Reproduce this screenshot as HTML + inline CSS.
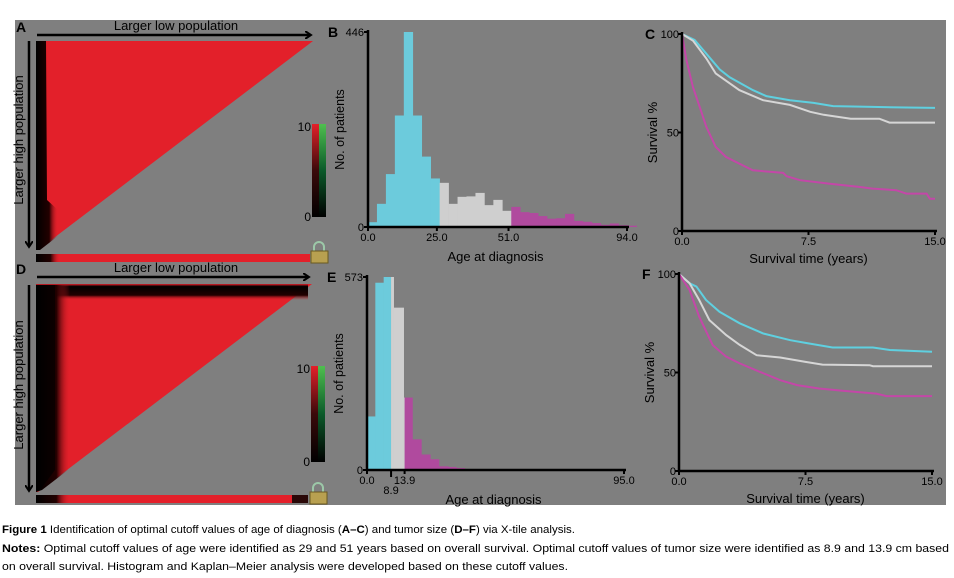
<!DOCTYPE html>
<html><head><meta charset="utf-8"><style>
html,body{margin:0;padding:0;background:#fff;}
svg{display:block;font-family:"Liberation Sans",sans-serif;}
</style></head><body>
<svg id="fig" width="954" height="578" viewBox="0 0 954 578" xmlns="http://www.w3.org/2000/svg">
<defs>
<linearGradient id="cbar" x1="0" y1="1" x2="0" y2="0"><stop offset="0" stop-color="#000"/><stop offset="0.5" stop-color="#3a0a0a"/><stop offset="1" stop-color="#e3202a"/></linearGradient>
<linearGradient id="cbarg" x1="0" y1="1" x2="0" y2="0"><stop offset="0" stop-color="#000"/><stop offset="0.5" stop-color="#0b5a2a"/><stop offset="1" stop-color="#4fbf4f"/></linearGradient>
<linearGradient id="blkL" x1="0" y1="0" x2="1" y2="0"><stop offset="0" stop-color="#000"/><stop offset="0.6" stop-color="#200"/><stop offset="1" stop-color="#e3202a" stop-opacity="0"/></linearGradient>
<linearGradient id="blkT" x1="0" y1="0" x2="0" y2="1"><stop offset="0" stop-color="#e3202a"/><stop offset="0.15" stop-color="#000"/><stop offset="0.7" stop-color="#200"/><stop offset="1" stop-color="#e3202a" stop-opacity="0"/></linearGradient>
<marker id="arr" markerWidth="8" markerHeight="8" refX="5" refY="4" orient="auto" markerUnits="userSpaceOnUse"><path d="M0,0 L6,4 L0,8" fill="none" stroke="#000" stroke-width="2"/></marker>
</defs>
<rect x="15" y="20" width="931" height="485" fill="#7f7f7f"/>

<!-- Panel A -->
<g>
<text x="16" y="32" font-size="14" font-weight="bold">A</text>
<text x="176" y="30" font-size="13" text-anchor="middle">Larger low population</text>
<line x1="37" y1="35" x2="310" y2="35" stroke="#000" stroke-width="2.5" marker-end="url(#arr)"/>
<line x1="29" y1="41" x2="29" y2="246" stroke="#000" stroke-width="2.5" marker-end="url(#arr)"/>
<text transform="translate(23,140) rotate(-90)" font-size="13" text-anchor="middle">Larger high population</text>
<polygon points="36,41 313,41 38,250 36,250" fill="#e3202a"/>
<polygon points="36,41 46,41 47,200 58,210 58,236 40,250 36,250" fill="url(#blkL)"/>
<rect x="36" y="254" width="274" height="8" fill="#e3202a"/>
<rect x="36" y="254" width="24" height="8" fill="url(#blkL)"/>
<g><path d="M314,252 v-5 a5,5 0 0 1 10,0 v5" fill="none" stroke="#9cc8a8" stroke-width="2"/><rect x="311" y="251" width="17" height="12" fill="#b8a050" stroke="#6a5a20"/></g>
<rect x="312" y="124" width="7" height="93" fill="url(#cbar)"/>
<rect x="319" y="124" width="7" height="93" fill="url(#cbarg)"/>
<text x="311" y="131" font-size="12" text-anchor="end">10</text>
<text x="311" y="221" font-size="12" text-anchor="end">0</text>
</g>

<!-- Panel D -->
<g>
<text x="16" y="274" font-size="14" font-weight="bold">D</text>
<text x="176" y="272" font-size="13" text-anchor="middle">Larger low population</text>
<line x1="37" y1="277" x2="308" y2="277" stroke="#000" stroke-width="2.5" marker-end="url(#arr)"/>
<line x1="29" y1="285" x2="29" y2="490" stroke="#000" stroke-width="2.5" marker-end="url(#arr)"/>
<text transform="translate(23,385) rotate(-90)" font-size="13" text-anchor="middle">Larger high population</text>
<polygon points="36,284 312,284 38,492 36,492" fill="#e3202a"/>
<rect x="36" y="284" width="272" height="16" fill="url(#blkT)"/>
<polygon points="36,285 70,285 68,470 42,490 36,492" fill="url(#blkL)"/>
<polygon points="36,285 55,285 55,470 40,490 36,492" fill="#000" opacity="0.6"/>
<rect x="36" y="495" width="272" height="8" fill="#e3202a"/>
<rect x="36" y="495" width="34" height="8" fill="url(#blkL)"/>
<rect x="292" y="495" width="16" height="8" fill="#2a0808"/>
<g><path d="M313,493 v-5 a5,5 0 0 1 10,0 v5" fill="none" stroke="#9cc8a8" stroke-width="2"/><rect x="310" y="492" width="17" height="12" fill="#b8a050" stroke="#6a5a20"/></g>
<rect x="311" y="366" width="7" height="96" fill="url(#cbar)"/>
<rect x="318" y="366" width="7" height="96" fill="url(#cbarg)"/>
<text x="310" y="373" font-size="12" text-anchor="end">10</text>
<text x="310" y="466" font-size="12" text-anchor="end">0</text>
</g>

<g id="charts"></g>

<g font-size="11">
<text x="2" y="533" textLength="573" lengthAdjust="spacingAndGlyphs"><tspan font-weight="bold">Figure 1</tspan> Identification of optimal cutoff values of age of diagnosis (<tspan font-weight="bold">A–C</tspan>) and tumor size (<tspan font-weight="bold">D–F</tspan>) via X-tile analysis.</text>
<text x="2" y="552" textLength="947" lengthAdjust="spacingAndGlyphs"><tspan font-weight="bold">Notes:</tspan> Optimal cutoff values of age were identified as 29 and 51 years based on overall survival. Optimal cutoff values of tumor size were identified as 8.9 and 13.9 cm based</text>
<text x="2" y="570" textLength="566" lengthAdjust="spacingAndGlyphs">on overall survival. Histogram and Kaplan–Meier analysis were developed based on these cutoff values.</text>
</g>
</svg>
<script>
// ---- Panel B histogram data ----
const binWidthB = 3.25;
const countsB = [11,53,121,255,446,255,161,111,101,53,69,70,78,50,62,37,46,34,32,25,19,20,30,14,12,9,5,8,4,3];
const cutoffsB = [25, 51];
const xTicksB = [0, 25, 51, 94];
const xTickLabelsB = ["0.0","25.0","51.0","94.0"];
const yMaxB = 446;
// ---- Panel E histogram data ----
const edgesE = [0,3.08,6.16,8.9,9.86,13.56,13.9,16.8,20.1,23.4,26.6,30,33,36.1];
const countsE = [159,556,573,573,482,215,215,91,46,32,11,9,6];
const cutoffsE = [8.9, 13.9];
const xTicksE = [0, 8.9, 13.9, 95];
const xTickLabelsE = ["0.0","8.9","13.9","95.0"];
const yMaxE = 573;
// ---- Panel C survival data ----
const timeCcyan = [0,0.75,1.44,2.24,2.83,4.2,5,6.4,7.8,8.96,11.3,13.3,15];
const survCcyan = [100,97,90,82,78,71.5,68.5,66.4,65,63.4,63,62.7,62.5];
const timeCgray = [0,0.65,1.44,2,2.83,3.4,4.8,6.4,7.6,8.4,10,11.7,12.3,15];
const survCgray = [100,96.6,87.6,80,75,71.5,66.4,64,60.5,59,57,57,55,55];
const timeCmag = [0,0.26,0.65,1.05,1.44,2,2.6,3.4,4.2,6,6.2,7,8.77,10.5,11.3,12.7,13.3,14.5,14.7,15];
const survCmag = [100,86.8,73,63,52.9,42.7,37.6,34.2,30.8,29.5,27.8,25.8,24,22.4,21.5,20.7,19,19,16.4,16.4];
// ---- Panel F survival data ----
const timeFcyan = [0,0.63,1.03,1.6,2.4,3.6,5,6.6,7.5,9.1,11.5,12.5,15];
const survFcyan = [100,95.3,93.6,86.8,80.8,75,69.8,66.4,65,62.7,62.7,61.4,60.5];
const timeFgray = [0,0.63,1.2,1.8,2.8,3.6,4.6,6,7.5,8.5,11.3,11.5,15];
const survFgray = [100,95.3,86.8,76.6,69,64,58.8,57.6,55.4,54,53.7,53.2,53.2];
const timeFmag = [0,0.63,1.2,2,2.8,3.6,4.8,6,7,8.3,9.7,11.7,12.3,15];
const survFmag = [100,91.9,78.3,63.9,58,54.6,50.3,46.1,43.6,41.9,40.7,39.3,38,38];
const survTicks = [0,50,100];
const timeTicks = [0,7.5,15];
const timeTickLabels = ["0.0","7.5","15.0"];

const NS = "http://www.w3.org/2000/svg";
const root = document.getElementById('charts');
const COL = ['#6ccbdc','#cfcfcf','#b04a9e'];
const LCOL = ['#5fd0e0','#d6d6d6','#c447a8'];
function mk(tag, attrs, parent){const e=document.createElementNS(NS,tag);for(const k in attrs)e.setAttribute(k,attrs[k]);(parent||root).appendChild(e);return e;}
function txt(s, attrs, parent){const e=mk('text',attrs,parent);e.textContent=s;return e;}
function colorIdx(v,cuts){return v<cuts[0]?0:(v<cuts[1]?1:2);}

function axes(g, x0, x1, y0, y1){
  const a=mk('line',{x1:x0,y1:y1-2,x2:x0,y2:y0+1,stroke:'#000','stroke-width':2.5},g);
  
  
  const b=mk('line',{x1:x0-1,y1:y0,x2:x1+2,y2:y0,stroke:'#000','stroke-width':2.5},g);
  
  
}

function histogram(name, letter, x0, x1, y0, y1, xMaxVal, edges, counts, cuts, ticks, tickLabels, yMax, tickLong){
  const g=mk('g',{});
  
  
  const xs=v=>x0+(v/xMaxVal)*(x1-x0);
  const ys=v=>y0-(v/yMax)*(y0-y1);
  counts.forEach((c,i)=>{
    const a=edges[i], b=edges[i+1];
    const r=mk('rect',{x:xs(a),y:ys(c),width:xs(b)-xs(a)+0.3,height:y0-ys(c),fill:COL[colorIdx((a+b)/2,cuts)]},g);
    
    
  });
  axes(g,x0,x1,y0,y1);
  const l=txt(letter,{x:x0-40,y:y1+5,'font-size':14,'font-weight':'bold'},g);
  
  
  [[0,'0'],[yMax,String(yMax)]].forEach(([v,s])=>{
    mk('line',{x1:x0-4,x2:x0,y1:ys(v),y2:ys(v),stroke:'#000','stroke-width':2},g);
    const t=txt(s,{x:x0-4,y:ys(v)+4,'font-size':11,'text-anchor':'end'},g);
    
    
  });
  ticks.forEach((v,i)=>{
    const low = tickLong && i===1;
    mk('line',{x1:xs(v),x2:xs(v),y1:y0,y2:y0+(low?7:4),stroke:'#000','stroke-width':2},g);
    const t=txt(tickLabels[i],{x:xs(v),y:y0+(low?24:14),'font-size':11,'text-anchor':'middle'},g);
    
    
  });
  const xt=txt('Age at diagnosis',{x:(x0+x1)/2-2,y:y0+34,'font-size':13,'text-anchor':'middle'},g);
  
  
  const yt=txt('No. of patients',{transform:`translate(${x0-24},${(y0+y1)/2}) rotate(-90)`,'font-size':12.5,'text-anchor':'middle'},g);
  
  
}

function km(name, letter, x0, x1, y0, y1, series){
  const g=mk('g',{});
  
  
  const xs=v=>x0+(v/15)*(x1-x0);
  const ys=v=>y0-(v/100)*(y0-y1);
  series.forEach(([t,s],k)=>{
    const pts=t.map((tv,i)=>xs(tv).toFixed(1)+','+ys(s[i]).toFixed(1)).join(' ');
    const p=mk('polyline',{points:pts,fill:'none',stroke:LCOL[k],'stroke-width':2},g);
    
    
  });
  axes(g,x0,x1,y0,y1);
  const l=txt(letter,{x:x0-37,y:y1+5,'font-size':14,'font-weight':'bold'},g);
  
  
  survTicks.forEach(v=>{
    mk('line',{x1:x0-4,x2:x0,y1:ys(v),y2:ys(v),stroke:'#000','stroke-width':2},g);
    const t=txt(String(v),{x:x0-3,y:ys(v)+4,'font-size':11,'text-anchor':'end'},g);
    
    
  });
  timeTicks.forEach((v,i)=>{
    mk('line',{x1:xs(v),x2:xs(v),y1:y0,y2:y0+4,stroke:'#000','stroke-width':2},g);
    const t=txt(timeTickLabels[i],{x:xs(v),y:y0+14,'font-size':11,'text-anchor':'middle'},g);
    
    
  });
  const xt=txt('Survival time (years)',{x:(x0+x1)/2,y:y0+32,'font-size':13,'text-anchor':'middle'},g);
  
  
  const yt=txt('Survival %',{transform:`translate(${x0-25},${(y0+y1)/2}) rotate(-90)`,'font-size':13,'text-anchor':'middle'},g);
  
  
}

const edgesB = countsB.map((c,i)=>i*binWidthB).concat([countsB.length*binWidthB]);
histogram('panel-b-histogram','B',368,627,227,32,94,edgesB,countsB,cutoffsB,xTicksB,xTickLabelsB,yMaxB,false);
histogram('panel-e-histogram','E',367,624,470,277,95,edgesE,countsE,cutoffsE,xTicksE,xTickLabelsE,yMaxE,true);
km('panel-c-survival','C',682,935,231,34,[[timeCcyan,survCcyan],[timeCgray,survCgray],[timeCmag,survCmag]]);
km('panel-f-survival','F',679,932,471,274,[[timeFcyan,survFcyan],[timeFgray,survFgray],[timeFmag,survFmag]]);
</script>
</body></html>
